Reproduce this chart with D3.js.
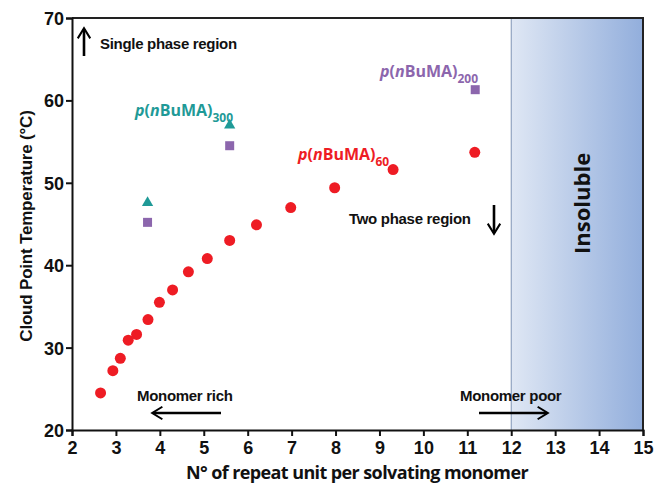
<!DOCTYPE html>
<html>
<head>
<meta charset="utf-8">
<script src="https://cdn.jsdelivr.net/npm/d3@7"></script>
<style>
  body { margin: 0; background: #fff; }
  svg { display: block; }
  .tick text { font-family: "Liberation Sans", Arial, sans-serif; font-weight: bold; font-size: 18px; fill: #111; }
  .note { font-family: "Liberation Sans", Arial, sans-serif; font-weight: bold; font-size: 15px; fill: #111; letter-spacing: -0.3px; }
  .plabel { font-family: "Open Sans", "Noto Sans", sans-serif; font-weight: bold; font-size: 16px; }
</style>
</head>
<body>
<div id="chart"></div>
<script>
'use strict';

// p(nBuMA)60 -- red circles
var p60X = [2.65, 2.93, 3.10, 3.28, 3.47, 3.73, 3.99, 4.29, 4.65, 5.08, 5.59, 6.20, 6.98, 7.98, 9.31, 11.17];
var p60Y = [24.5, 27.2, 28.7, 30.9, 31.6, 33.4, 35.5, 37.0, 39.2, 40.8, 43.0, 44.9, 47.0, 49.4, 51.6, 53.7];
// p(nBuMA)300 -- teal triangles
var p300X = [3.72, 5.59];
var p300Y = [47.7, 57.1];
// p(nBuMA)200 -- purple squares
var p200X = [3.72, 5.59, 11.18];
var p200Y = [45.2, 54.5, 61.3];

var xTicks = [2, 3, 4, 5, 6, 7, 8, 9, 10, 11, 12, 13, 14, 15];
var yTicks = [20, 30, 40, 50, 60, 70];
var insolubleRange = [12, 15];

var width = 657,
    height = 485,
    margin = {top: 18, right: 14, bottom: 55, left: 72};

var red = '#ee1c24',
    teal = '#1f9a97',
    purple = '#8c66ad';

var svg = d3.select('#chart').append('svg')
  .attr('width', width)
  .attr('height', height);

var x = d3.scaleLinear().domain([2, 15]).range([margin.left, width - margin.right]);
var y = d3.scaleLinear().domain([20, 70]).range([height - margin.bottom, margin.top]);

var defs = svg.append('defs');
var grad = defs.append('linearGradient')
  .attr('id', 'insol')
  .attr('x1', '0%').attr('x2', '100%')
  .attr('y1', '0%').attr('y2', '0%');
grad.append('stop').attr('offset', '0%').attr('stop-color', '#dfe7f4');
grad.append('stop').attr('offset', '100%').attr('stop-color', '#92aedc');

defs.append('marker')
  .attr('id', 'head')
  .attr('viewBox', '0 0 10 10')
  .attr('refX', 8).attr('refY', 5)
  .attr('markerWidth', 6).attr('markerHeight', 6)
  .attr('orient', 'auto')
  .append('path')
  .attr('d', 'M2,1 L8.5,5 L2,9')
  .attr('fill', 'none')
  .attr('stroke', '#000')
  .attr('stroke-width', 1.3);

// insoluble band
svg.append('rect')
  .attr('x', x(insolubleRange[0]))
  .attr('y', y(70))
  .attr('width', x(insolubleRange[1]) - x(insolubleRange[0]))
  .attr('height', y(20) - y(70))
  .attr('fill', 'url(#insol)');
svg.append('line')
  .attr('x1', x(12)).attr('x2', x(12))
  .attr('y1', y(70)).attr('y2', y(20))
  .attr('stroke', '#7f93b5')
  .attr('stroke-width', 1);

svg.append('text')
  .attr('transform', 'translate(' + (x(13.6) + 8) + ',' + y(47.5) + ') rotate(-90)')
  .attr('text-anchor', 'middle')
  .style('font-family', '"Open Sans", "Noto Sans", sans-serif')
  .style('font-weight', 'bold')
  .style('font-size', '22px')
  .style('fill', '#111')
  .text('Insoluble');

// frame
svg.append('path')
  .attr('d', 'M' + x(2) + ',' + y(70) + 'H' + x(15) + 'V' + y(20))
  .attr('fill', 'none')
  .attr('stroke', '#222')
  .attr('stroke-width', 2);

var xAxis = svg.append('g')
  .attr('transform', 'translate(0,' + y(20) + ')')
  .call(d3.axisBottom(x).tickValues(xTicks).tickSize(6).tickPadding(5));
var yAxis = svg.append('g')
  .attr('transform', 'translate(' + x(2) + ',0)')
  .call(d3.axisLeft(y).tickValues(yTicks).tickSize(6).tickPadding(2));

[xAxis, yAxis].forEach(function (g) {
  g.select('.domain').attr('stroke', '#111').attr('stroke-width', 2);
  g.selectAll('.tick line').attr('stroke', '#111').attr('stroke-width', 2);
});
yAxis.selectAll('.tick text').attr('dy', '0.36em');

// axis titles
svg.append('text')
  .attr('x', 357).attr('y', 479)
  .attr('text-anchor', 'middle')
  .style('font-family', '"Open Sans", "Noto Sans", sans-serif')
  .style('font-weight', 'bold')
  .style('font-size', '18px')
  .style('letter-spacing', '-0.6px')
  .style('fill', '#111')
  .text('N° of repeat unit per solvating monomer');

svg.append('text')
  .attr('transform', 'translate(32,226) rotate(-90)')
  .attr('text-anchor', 'middle')
  .style('font-family', '"Liberation Sans", Arial, sans-serif')
  .style('font-weight', 'bold')
  .style('font-size', '17px')
  .style('letter-spacing', '-0.2px')
  .style('fill', '#111')
  .text('Cloud Point Temperature (°C)');

// data
svg.append('g').selectAll('circle')
  .data(d3.zip(p60X, p60Y))
  .enter().append('circle')
  .attr('cx', function (d) { return x(d[0]); })
  .attr('cy', function (d) { return y(d[1]); })
  .attr('r', 5.5)
  .attr('fill', red);

svg.append('g').selectAll('rect')
  .data(d3.zip(p200X, p200Y))
  .enter().append('rect')
  .attr('x', function (d) { return x(d[0]) - 4.5; })
  .attr('y', function (d) { return y(d[1]) - 4.5; })
  .attr('width', 9)
  .attr('height', 9)
  .attr('fill', purple);

svg.append('g').selectAll('path')
  .data(d3.zip(p300X, p300Y))
  .enter().append('path')
  .attr('d', d3.symbol().type(d3.symbolTriangle).size(55))
  .attr('transform', function (d) { return 'translate(' + x(d[0]) + ',' + (y(d[1]) + 1) + ')'; })
  .attr('fill', teal);

// series labels
function polyLabel(px, py, sub, color) {
  var t = svg.append('text')
    .attr('class', 'plabel')
    .attr('x', px).attr('y', py)
    .style('fill', color);
  t.append('tspan').style('font-style', 'italic').text('p');
  t.append('tspan').text('(');
  t.append('tspan').style('font-style', 'italic').text('n');
  t.append('tspan').text('BuMA)');
  t.append('tspan').attr('dy', 6).style('font-size', '12px').text(sub);
}
polyLabel(135, 116, '300', teal);
polyLabel(298, 160, '60', red);
polyLabel(380, 77, '200', purple);

// region notes
function note(px, py, txt) {
  svg.append('text').attr('class', 'note').attr('x', px).attr('y', py).text(txt);
}
function arrow(x1, y1, x2, y2) {
  svg.append('line')
    .attr('x1', x1).attr('y1', y1).attr('x2', x2).attr('y2', y2)
    .attr('stroke', '#000')
    .attr('stroke-width', 2.6)
    .attr('marker-end', 'url(#head)');
}

note(100, 49, 'Single phase region');
arrow(84, 56, 84, 29);
note(349, 224, 'Two phase region');
arrow(494, 205, 494, 233);
note(137, 401, 'Monomer rich');
arrow(221, 413, 153, 413);
note(460, 401, 'Monomer poor');
arrow(479, 413, 547, 413);
</script>
</body>
</html>
